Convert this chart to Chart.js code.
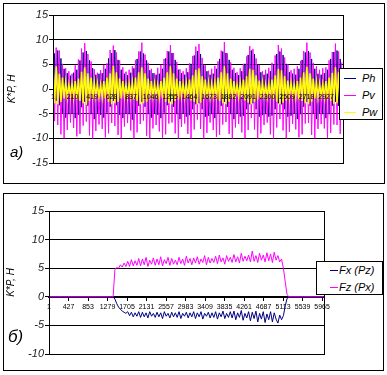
<!DOCTYPE html>
<html><head><meta charset="utf-8">
<script src="https://cdn.jsdelivr.net/npm/chart.js@4/dist/chart.umd.min.js"></script>
<style>
html,body{margin:0;padding:0;background:#fff;}
body{width:387px;height:375px;overflow:hidden;position:relative;font-family:'Liberation Sans',Arial,sans-serif;}
.box{position:absolute;border:1px solid #000;background:#fff;}
.box canvas{position:absolute;left:0;top:0;}
.leg{position:absolute;border:1px solid #000;background:#fff;font-style:italic;font-size:11px;color:#000;}
.row{position:absolute;height:14px;line-height:14px;white-space:nowrap;}
.smp{position:absolute;height:1px;}
.tag{position:absolute;font-style:italic;color:#000;line-height:1;}
</style></head>
<body>
<div class="box" style="left:3px;top:3px;width:380px;height:179px"><canvas id="cA" width="380" height="179"></canvas></div>
<div class="box" style="left:3px;top:193px;width:379px;height:176px"><canvas id="cB" width="379" height="176"></canvas></div>
<div class="tag" style="left:10px;top:144px;font-size:15px">a)</div>
<div class="tag" style="left:8px;top:328px;font-size:17px">б)</div>
<div class="leg" id="legA" style="left:339px;top:68px;width:42px;height:50px"></div>
<div class="leg" id="legB" style="left:316px;top:261px;width:65px;height:32px"></div>
<script>
// ---------- chart a) ----------
const seriesTop = ['Ph', 'Pv', 'Pw'];
const colorsTop = ['#000080', '#ff00ff', '#ffff00'];
const xTicksTop = [1, 210, 419, 628, 837, 1046, 1255, 1464, 1673, 1882, 2091, 2300, 2509, 2718, 2927];
const yTicksTop = [15, 10, 5, 0, -5, -10, -15];
const stepTop = 17;
const Ph = [
-3.6, 7.2, -2.4, 7.8, -3.3, 6.2, -4.8, 4.1, -5.8, 3.2,
-5.1, 2.7, -4.9, 3.3, -5.9, 3.9, -5.2, 5.8, -3.7, 7.4,
-2.6, 7.7, -3.4, 5.8, -5.1, 4.2, -6.1, 2.9, -4.8, 3.1,
-5.2, 3.2, -5.8, 4.1, -4.8, 6.2, -3.6, 7.3, -2.4, 7.9,
-3.3, 5.9, -5.2, 3.9, -5.9, 3.1, -4.9, 2.8, -5.1, 3.3,
-6.2, 4.2, -4.9, 6.1, -3.4, 7.6, -2.6, 7.2, -3.6, 5.8,
-5.1, 3.8, -5.8, 3.2, -4.9, 2.9, -5.2, 3.1, -5.9, 4.1,
-4.8, 6.2, -3.3, 7.6, -2.5, 7.3, -3.6, 5.9, -5.1, 3.9,
-6.1, 3.2, -4.9, 2.9, -5.6, 3.4, -5.3, 5.1, -4.1, 6.8,
-3.1, 7.7, -2.9, 7.1, -4.1, 4.8, -5.6, 3.6, -5.4, 2.9,
-5.1, 3.1, -5.9, 4.1, -4.9, 6.1, -3.4, 7.6, -2.6, 7.3,
-3.6, 5.9, -5.1, 3.9, -6.1, 3.2, -4.9, 2.8, -5.6, 3.6,
-5.4, 5.1, -4.1, 6.9, -3.1, 7.8, -2.9, 7.1, -4.1, 4.9,
-5.6, 3.4, -5.3, 2.9, -5.1, 3.1, -5.6, 3.6, -5.4, 4.9,
-4.1, 7.1, -2.9, 7.6, -3.1, 6.9, -4.1, 5.1, -5.6, 3.4,
-5.4, 3.1, -4.9, 2.9, -6.1, 4.1, -5.1, 5.9, -3.6, 7.4,
-2.6, 7.7, -3.4, 6.1, -4.9, 4.1, -6.1, 3.1, -4.9, 2.9,
-5.1, 3.2, -5.9, 3.9, -5.1, 6.1, -3.4, 7.5, -2.6, 7.8,
-3.4, 6.1, -4.8
];
const Pv = [
7.2, -6.5, 8.4, -7.3, 7.8, -9.2, 5.1, -10, 4.2, -8.3,
3.6, -6.8, 3.1, -7.9, 4.8, -9.6, 6.0, -9.1, 8.2, -7.4,
9.3, -6.6, 7.1, -9.4, 5.6, -10, 4.0, -8.5, 3.3, -7.2,
3.8, -8.1, 4.9, -9.8, 5.2, -9.0, 7.9, -6.9, 8.8, -7.5,
7.4, -9.3, 5.8, -10, 4.4, -7.6, 3.5, -6.9, 3.9, -8.4,
4.6, -10, 5.9, -8.8, 7.6, -7.1, 9.4, -6.4, 7.0, -9.5,
5.3, -10, 4.1, -8.0, 3.2, -7.3, 4.3, -8.6, 4.9, -9.9,
6.1, -9.2, 7.7, -7.0, 8.9, -6.8, 7.3, -9.0, 5.5, -10,
4.0, -7.7, 3.6, -7.0, 4.2, -9.1, 5.2, -10, 6.7, -8.2,
8.6, -6.2, 9.1, -8.1, 6.3, -10, 4.8, -8.9, 3.7, -6.8,
4.1, -8.3, 4.7, -9.7, 5.6, -9.3, 7.8, -7.2, 9.5, -6.7,
7.2, -9.1, 5.4, -10, 4.3, -7.8, 3.4, -7.1, 4.2, -8.8,
5.1, -10, 6.6, -8.3, 8.7, -5.9, 8.1, -8.2, 6.2, -10,
4.9, -9.0, 3.6, -7.3, 3.9, -6.8, 4.3, -9.2, 5.3, -10,
6.8, -7.8, 8.9, -6.1, 8.2, -8.4, 6.4, -10, 5.0, -8.7,
3.8, -7.1, 4.1, -8.2, 4.6, -9.8, 5.7, -9.2, 7.7, -7.0,
9.4, -6.9, 7.4, -9.3, 5.3, -10, 4.6, -8.1, 3.9, -7.1,
4.2, -8.0, 4.4, -9.9, 5.8, -8.9, 7.5, -7.2, 9.2, -7.3,
7.6, -9.1, 5.4
];
const Pw = [
3.4, -2.9, 4.6, -3.1, 3.1, -2.6, 2.3, -1.9, 1.4, -1.7,
0.9, -1.4, 1.1, -1.7, 1.6, -2.1, 2.1, -2.4, 3.5, -2.9,
4.4, -3.2, 3.2, -2.4, 2.3, -2.1, 1.4, -1.5, 1.1, -1.6,
0.9, -1.7, 1.6, -1.9, 2.3, -2.6, 3.2, -3.1, 4.7, -2.9,
3.4, -2.6, 2.1, -1.9, 1.6, -1.5, 0.9, -1.6, 1.1, -1.5,
1.4, -2.1, 2.3, -2.4, 3.4, -3.1, 4.4, -2.9, 3.2, -2.6,
2.1, -2.1, 1.6, -1.5, 1.1, -1.4, 0.9, -1.7, 1.6, -1.9,
2.3, -2.6, 3.4, -2.9, 4.6, -3.1, 3.2, -2.4, 2.1, -2.1,
1.6, -1.5, 1.1, -1.6, 1.3, -1.7, 1.9, -2.3, 2.8, -2.6,
3.9, -3.1, 4.2, -2.8, 2.6, -2.1, 1.9, -1.7, 1.3, -1.6,
1.1, -1.5, 1.4, -2.1, 2.3, -2.4, 3.4, -2.9, 4.6, -3.1,
3.2, -2.6, 2.1, -1.9, 1.6, -1.5, 0.9, -1.6, 1.3, -1.7,
1.9, -2.3, 2.6, -2.8, 4.1, -3.1, 3.9, -2.6, 2.8, -2.1,
1.7, -1.9, 1.3, -1.4, 0.9, -1.6, 1.1, -1.9, 1.9, -2.1,
2.8, -2.6, 4.1, -3.1, 3.8, -2.8, 2.6, -2.3, 1.7, -1.7,
1.3, -1.4, 0.9, -1.7, 1.6, -2.1, 2.3, -2.4, 3.4, -2.9,
4.5, -3.1, 3.2, -2.6, 2.1, -1.9, 1.4, -1.7, 1.1, -1.4,
1.0, -1.7, 1.6, -2.1, 2.3, -2.4, 3.3, -3.0, 4.4, -2.9,
3.4, -2.6, 2.1
];

// ---------- chart б) ----------
const seriesBottom = ['Fx (Pz)', 'Fz (Px)'];
const colorsBottom = ['#000080', '#ff00ff'];
const xTicksBottom = [1, 427, 853, 1279, 1705, 2131, 2557, 2983, 3409, 3835, 4261, 4687, 5113, 5539, 5965];
const yTicksBottom = [15, 10, 5, 0, -5, -10];
const stepBottom = 40;
const Fx = [
0, 0, 0, 0, 0, 0, 0, 0, 0, 0,
0, 0, 0, 0, 0, 0, 0, 0, 0, 0,
0, 0, 0, 0, 0, 0, 0, 0, 0, 0,
0, 0, 0, 0, 0, 0,
-0.4, -1.2, -1.8, -2.2, -2.5, -2.7, -2.9, -2.6, -3.3, -2.7, -3.5, -2.8, -3.4, -2.6,
-3.6, -2.7, -3.5, -2.8, -3.7, -2.6, -3.4, -2.9, -3.6, -2.7,
-3.5, -2.8, -3.8, -2.6, -3.4, -2.9, -3.7, -2.7, -3.5, -2.8,
-3.6, -2.6, -3.8, -2.9, -3.4, -2.7, -3.7, -2.8, -3.5, -2.6,
-3.8, -2.8, -3.5, -2.6, -3.9, -2.9, -3.4, -2.7, -3.7, -2.8,
-3.6, -2.6, -3.9, -2.8, -3.5, -2.5, -3.8, -2.9, -3.6, -2.6,
-3.7, -2.5, -4.0, -2.8, -3.6, -2.4, -4.1, -2.9, -3.7, -2.6,
-4.2, -2.7, -3.8, -2.5, -4.4, -2.9, -3.9, -2.6, -4.5, -3.0,
-4.0, -2.6, -4.4, -2.8, -3.9, -4.6, -3.2, -4.0,
-3.3, -1.6, -0.3,
0, 0, 0, 0, 0, 0, 0, 0, 0, 0,
0, 0, 0, 0, 0, 0, 0, 0, 0, 0
];
const Fz = [
0, 0, 0, 0, 0, 0, 0, 0, 0, 0,
0, 0, 0, 0, 0, 0, 0, 0, 0, 0,
0, 0, 0, 0, 0, 0, 0, 0, 0, 0,
0, 0, 0, 0, 0, 0,
4.8, 5.1, 5.0, 5.6, 5.2, 5.9, 5.3, 6.2, 5.3, 6.5, 5.4, 6.3, 5.5, 6.7,
5.4, 6.6, 5.6, 6.9, 5.3, 6.4, 5.7, 6.8, 5.5, 6.6,
5.6, 7.0, 5.4, 6.5, 5.8, 6.9, 5.5, 6.7, 5.7, 6.4,
5.6, 6.9, 5.8, 6.6, 5.5, 7.1, 5.9, 6.7, 5.6, 6.8,
5.9, 7.0, 5.7, 6.6, 6.0, 7.2, 5.6, 6.9, 5.9, 6.7,
6.0, 7.1, 5.8, 7.3, 6.1, 6.8, 5.7, 7.2, 6.2, 6.9,
6.0, 7.4, 6.1, 7.0, 5.9, 7.6, 6.2, 7.1, 6.3, 7.3,
6.1, 8.0, 6.2, 7.2, 6.0, 7.6, 6.4, 7.3, 6.1, 7.7,
6.3, 7.5, 6.0, 7.8, 6.4, 7.2, 6.1, 6.6,
5.0, 2.6, 0.4,
0, 0, 0, 0, 0, 0, 0, 0, 0, 0,
0, 0, 0, 0, 0, 0, 0, 0, 0, 0
];

const tickFont = {family: "'Liberation Sans', Arial, sans-serif", size: 11, style: 'italic'};
const xFont = {family: "'Liberation Sans', Arial, sans-serif", size: 7};
const titleFont = {family: "'Liberation Sans', Arial, sans-serif", size: 10, style: 'italic'};

const frame = {
  id: 'frame',
  afterDraw(c) {
    const a = c.chartArea, g = c.ctx;
    g.save(); g.strokeStyle = '#000'; g.lineWidth = 1;
    g.strokeRect(Math.round(a.left) + 0.5, Math.round(a.top) + 0.5, Math.round(a.right - a.left), Math.round(a.bottom - a.top));
    g.restore();
  }
};

function makeChart(id, names, colors, widths, values, step, xMax, xTicks, yTicks, yMin, yMax, pad, yWidth, titlePad, xOpts) {
  return new Chart(document.getElementById(id), {
    type: 'line',
    data: {
      datasets: names.map((n, k) => ({
        label: n,
        data: values[k].map((v, i) => ({x: 1 + i * step, y: v})),
        borderColor: colors[k], backgroundColor: colors[k],
        borderWidth: widths[k], pointRadius: 0, tension: 0, fill: false,
        order: names.length - k
      }))
    },
    options: {
      responsive: false, animation: false, events: [],
      layout: {padding: pad},
      plugins: {legend: {display: false}, tooltip: {enabled: false}},
      scales: {
        x: Object.assign({
          type: 'linear', min: 1, max: xMax, position: {y: 0},
          afterBuildTicks: s => { s.ticks = xTicks.map(v => ({value: v})); }
        }, xOpts),
        y: {
          min: yMin, max: yMax,
          afterBuildTicks: s => { s.ticks = yTicks.map(v => ({value: v})); },
          afterFit: s => { s.width = yWidth; },
          grid: {color: '#000', lineWidth: 1, drawTicks: true, tickLength: 4},
          border: {color: '#000', width: 1},
          ticks: {padding: 1, color: '#222', font: tickFont},
          title: {display: true, text: 'K*P, H', color: '#000', font: titleFont, padding: {top: titlePad, bottom: 0}}
        }
      }
    },
    plugins: [frame]
  });
}

makeChart('cA', seriesTop, colorsTop, [1, 1, 1.5], [Ph, Pv, Pw], stepTop, 3108, xTicksTop, yTicksTop, -15, 15,
  {left: 0, top: 11, right: 41, bottom: 20}, 49, 2,
  {border: {display: false}, grid: {display: false, drawTicks: false},
   ticks: {z: 1, autoSkip: false, maxRotation: 0, minRotation: 0, padding: 4, color: '#000', font: xFont, callback: v => String(v)}});

makeChart('cB', seriesBottom, colorsBottom, [1, 1], [Fx, Fz], stepBottom, 6008, xTicksBottom, yTicksBottom, -10, 15,
  {left: 0, top: 17, right: 59, bottom: 16}, 45, 1.5,
  {border: {display: true, color: '#000', width: 2}, grid: {display: true, drawOnChartArea: false, drawTicks: true, tickLength: 3, color: '#000'},
   ticks: {autoSkip: false, maxRotation: 0, minRotation: 0, padding: 3, color: '#000', font: xFont, callback: v => String(v)}});

function legend(id, names, colors, rowsY, smpX, smpW, textX) {
  const el = document.getElementById(id);
  names.forEach((n, k) => {
    const s = document.createElement('div');
    s.className = 'smp';
    s.style.cssText = `left:${smpX}px;top:${rowsY[k]}px;width:${smpW}px;background:${colors[k]}`;
    el.appendChild(s);
    const t = document.createElement('div');
    t.className = 'row';
    t.style.cssText = `left:${textX}px;top:${rowsY[k] - 7}px`;
    t.textContent = n;
    el.appendChild(t);
  });
}
legend('legA', seriesTop, colorsTop, [9, 26, 43], 4, 12, 22);
legend('legB', seriesBottom, colorsBottom, [8, 25], 13, 8, 22);
</script>
</body></html>
